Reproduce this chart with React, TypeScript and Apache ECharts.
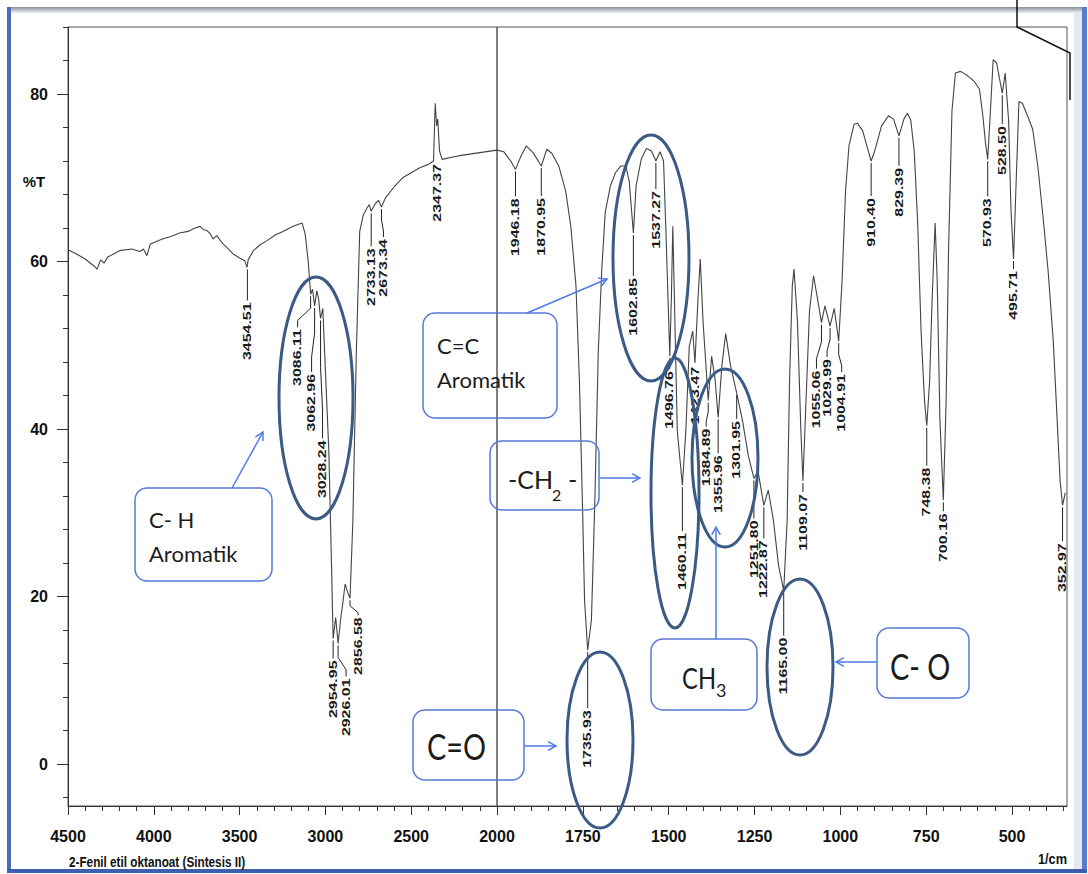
import React, { useEffect, useRef } from "react";
import * as echarts from "echarts";

// ---------- spectrum (wavenumber 1/cm, %T) ----------
const SPEC_WN = [
  4500, 4450, 4400, 4350, 4330, 4310, 4290, 4270, 4200, 4130, 4080, 4060, 4040, 4020, 3950, 3900, 3850, 3800, 3760, 3730,
  3710, 3690, 3670, 3655, 3633, 3615, 3597, 3570, 3538, 3497, 3470, 3457, 3450, 3420, 3380, 3340, 3290, 3247, 3188, 3136,
  3118, 3100, 3089, 3086.11, 3075, 3062.96, 3050, 3040, 3028.24, 3015, 3000, 2980, 2965, 2954.95, 2940, 2926.01, 2910, 2900,
  2885, 2870, 2856.58, 2840, 2820, 2800, 2780, 2760, 2745, 2733.13, 2710, 2690, 2673.34, 2650, 2600, 2550, 2500, 2450, 2400,
  2370, 2360, 2352, 2345, 2335, 2320, 2250, 2200, 2100, 2000,
  1980, 1960, 1946.18, 1930, 1915, 1895, 1870.95, 1855, 1840, 1820, 1800, 1785, 1770, 1760, 1750, 1745, 1735.93, 1725, 1715,
  1705, 1695, 1685, 1670, 1655, 1640, 1625, 1615, 1602.85, 1595, 1580, 1565, 1550, 1537.27, 1525, 1515, 1508, 1496.76, 1492,
  1488, 1483, 1475, 1460.11, 1450, 1440, 1430, 1423.47, 1415, 1408, 1400, 1384.89, 1375, 1365, 1355.96, 1345, 1334, 1320,
  1301.95, 1285, 1268, 1251.8, 1240, 1222.87, 1210, 1195, 1180, 1165, 1155, 1148, 1140, 1135, 1125, 1115, 1109.07, 1100,
  1090, 1078, 1068, 1055.06, 1045, 1029.99, 1018, 1004.91, 995, 985, 975, 960, 950, 935, 920, 910.4, 900, 880, 860, 845,
  829.39, 815, 805, 795, 785, 775, 765, 755, 748.38, 740, 733, 724, 718, 710, 700.16, 692, 685, 675, 665, 650, 630, 610, 595,
  585, 578, 570.93, 563, 555, 545, 535, 528.5, 520, 510, 503, 495.71, 488, 480, 470, 455, 440, 425, 410, 395, 380, 370, 360,
  352.97, 345,
];
const SPEC_T = [
  61.4, 60.9, 60.3, 59.5, 59.1, 60.2, 59.8, 60.5, 61.3, 61.5, 61.2, 61.5, 60.7, 62.1, 62.7, 63.0, 63.4, 63.6, 64.0, 64.2,
  63.8, 63.7, 63.3, 62.7, 63.1, 62.6, 62.1, 61.6, 60.9, 60.4, 60.1, 59.3, 60.2, 61.3, 62.0, 62.5, 63.2, 63.6, 64.2, 64.6,
  63.3, 60.0, 56.9, 56.1, 56.7, 54.7, 56.5, 55.6, 53.2, 54.4, 47.0, 37.4, 24.3, 15.0, 17.5, 14.4, 17.5, 19.0,
  21.5, 20.5, 19.8, 29.0, 49.0, 63.6, 65.5, 66.3, 66.8, 66.0, 66.9, 67.3, 66.5, 67.6, 68.9, 70.0, 70.6, 71.2, 71.6,
  72.0, 78.9, 76.2, 77.0, 73.2, 72.2, 72.5, 72.7, 73.0, 73.3,
  73.1, 72.0, 71.0, 72.6, 73.8, 73.0, 71.4, 73.4, 72.9, 71.4, 68.4, 64.2, 57.1, 45.8, 29.1, 19.5, 13.6, 17.2, 31.5,
  49.3, 58.9, 65.8, 69.0, 70.6, 71.4, 71.4, 69.6, 63.4, 69.0, 72.2, 73.5, 73.2, 72.0, 73.1, 72.0, 63.6, 48.7, 56.0,
  64.2, 55.0, 39.8, 33.3, 39.8, 49.9, 51.7, 47.9, 55.3, 60.3, 52.9, 43.4, 48.7, 46.0, 41.4, 47.6, 51.4, 47.6,
  44.3, 41.0, 36.8, 34.1, 35.0, 30.9, 32.7, 29.1, 23.7, 20.7, 29.1, 45.8, 57.1, 59.1, 52.9, 39.8, 33.8, 43.4,
  54.1, 58.3, 55.9, 52.7, 54.7, 52.3, 54.4, 50.5, 57.7, 68.4, 73.8, 76.4, 76.5, 75.6, 73.4, 72.0, 73.2, 76.2, 77.4, 77.0,
  75.0, 77.0, 77.7, 76.9, 73.2, 64.8, 51.7, 43.4, 40.4, 45.8, 55.3, 64.6, 57.7, 41.0, 31.5, 43.4, 61.3, 78.0, 82.5, 82.7, 82.2, 81.5, 80.6,
  77.4, 74.4, 72.2, 78.0, 84.1, 83.7, 81.5, 80.1, 82.5, 76.8, 66.0, 60.3, 69.6, 79.1, 78.9, 77.4, 75.8, 71.4, 65.4, 58.9, 50.5, 42.2, 33.8,
  30.9, 32.4,
];

// ---------- peak labels ----------
const PEAK_WN = [
  3454.51, 3086.11, 3062.96, 3028.24, 2954.95, 2926.01, 2856.58, 2733.13, 2673.34, 2347.37,
  1946.18, 1870.95, 1735.93, 1602.85, 1537.27, 1496.76, 1460.11, 1423.47, 1384.89, 1355.96,
  1301.95, 1251.8, 1222.87, 1165.0, 1109.07, 1055.06, 1029.99, 1004.91, 910.4, 829.39,
  748.38, 700.16, 570.93, 528.5, 495.71, 352.97,
];
const PEAK_T = [
  59.3, 56.1, 54.7, 53.2, 15.0, 14.4, 19.8, 66.0, 66.5, 72.0,
  71.0, 71.4, 13.6, 63.4, 72.0, 48.7, 33.3, 47.9, 43.4, 41.4,
  44.3, 34.1, 30.9, 20.7, 33.8, 52.7, 52.3, 50.5, 72.0, 75.0,
  40.4, 31.5, 72.2, 80.1, 60.3, 30.9,
];
// label layout: distance (px) below the point, and sideways shift of leader
const LABEL_GAP = [
  35, 35, 68, 122, 22, 35, 19, 37, 32, 3,
  29, 32, 60, 45, 30, 15, 48, 4, 28, 38,
  28, 42, 35, 47, 13, 48, 33, 33, 37, 32,
  42, 13, 39, 33, 12, 38,
];
const LABEL_DX = [
  0, -13, -3, 2, 0, 8, 8, 0, 2, 0,
  0, 0, 0, 0, 0, 0, 0, 0, -2, 0,
  0, 0, 0, 0, 0, -5, -3, 3, 0, 0,
  0, 0, 0, 0, 0, 0,
];

// ---------- axes ----------
const X_LEFT_LABELS = [4500, 4000, 3500, 3000, 2500];
const X_LEFT_MAJOR = [4500, 4000, 3500, 3000, 2500, 2000];
const X_RIGHT_LABELS = [2000, 1750, 1500, 1250, 1000, 750, 500];
const Y_LABELS = [0, 20, 40, 60, 80];

const stepList = (a: number, b: number, s: number) => {
  const out: number[] = [];
  for (let v = a; v <= b + 1e-9; v += s) out.push(v);
  return out;
};

const AX_FONT = '"Liberation Sans", Arial, Helvetica, sans-serif';
const ANN_FONT = 'Lato, "Open Sans", "Noto Sans", sans-serif';
const ELL = "#3b5b85";
const BOX = "#5878d6";
const ARR = "#4f7be8";

function arrow(x1: number, y1: number, x2: number, y2: number) {
  const ang = Math.atan2(y2 - y1, x2 - x1);
  const L = 9;
  const a1 = ang + Math.PI - 0.5;
  const a2 = ang + Math.PI + 0.5;
  return [
    { type: "line", z: 100, shape: { x1, y1, x2, y2 }, style: { stroke: ARR, lineWidth: 1.5 } },
    {
      type: "polyline",
      z: 100,
      shape: {
        points: [
          [x2 + L * Math.cos(a1), y2 + L * Math.sin(a1)],
          [x2, y2],
          [x2 + L * Math.cos(a2), y2 + L * Math.sin(a2)],
        ],
      },
      style: { stroke: ARR, lineWidth: 1.5, fill: null },
    },
  ];
}

function ellipse(cx: number, cy: number, rx: number, ry: number) {
  return { type: "ellipse", z: 100, shape: { cx, cy, rx, ry }, style: { fill: null, stroke: ELL, lineWidth: 3 } };
}
function box(x: number, y: number, width: number, height: number) {
  return { type: "rect", z: 99, shape: { x, y, width, height, r: 12 }, style: { fill: null, stroke: BOX, lineWidth: 1.5 } };
}
function txt(text: string, x: number, y: number, size: number, sx = 1, extra: any = {}) {
  return {
    type: "text",
    z: 101,
    x,
    y,
    scaleX: sx,
    style: {
      text,
      fill: "#1c1c1c",
      font: `${size}px ${ANN_FONT}`,
      textAlign: "left",
      textVerticalAlign: "middle",
      align: "left",
      verticalAlign: "middle",
      ...extra,
    },
  };
}

function makeLabelSeries(idxs: number[], xi: number, yi: number) {
  return {
    type: "custom",
    xAxisIndex: xi,
    yAxisIndex: yi,
    clip: false,
    silent: true,
    z: 5,
    data: idxs.map((i) => [PEAK_WN[i], PEAK_T[i], i]),
    renderItem: (params: any, api: any) => {
      const i = api.value(2);
      const p = api.coord([api.value(0), api.value(1)]);
      const gap = LABEL_GAP[i];
      const dx = LABEL_DX[i];
      const children: any[] = [];
      if (gap > 6) {
        const pts =
          dx === 0
            ? [
                [p[0], p[1] + 2],
                [p[0], p[1] + gap - 2],
              ]
            : [
                [p[0], p[1] + 2],
                [p[0], p[1] + gap * 0.4],
                [p[0] + dx, p[1] + gap * 0.75],
                [p[0] + dx, p[1] + gap - 2],
              ];
        children.push({ type: "polyline", shape: { points: pts }, style: { stroke: "#222", lineWidth: 1, fill: null } });
      }
      children.push({
        type: "text",
        x: p[0] + dx,
        y: p[1] + gap,
        rotation: Math.PI / 2,
        scaleX: 1.45,
        style: {
          text: PEAK_WN[i].toFixed(2),
          textAlign: "right",
          textVerticalAlign: "middle",
          align: "right",
          verticalAlign: "middle",
          font: `bold 11px ${AX_FONT}`,
          fill: "#1a1a1a",
        },
      });
      return { type: "group", children };
    },
  };
}

export default function App() {
  const ref = useRef<HTMLDivElement>(null);
  useEffect(() => {
    if (!ref.current) return;
    const chart = echarts.init(ref.current, null, { renderer: "svg" });

    const leftData: number[][] = [];
    const rightData: number[][] = [];
    SPEC_WN.forEach((w, i) => {
      if (w >= 2000) leftData.push([w, SPEC_T[i]]);
      if (w <= 2000) rightData.push([w, SPEC_T[i]]);
    });
    const leftIdx = PEAK_WN.map((w, i) => (w > 2000 ? i : -1)).filter((i) => i >= 0);
    const rightIdx = PEAK_WN.map((w, i) => (w <= 2000 ? i : -1)).filter((i) => i >= 0);

    const axLabel = {
      fontSize: 16,
      fontWeight: "bold",
      color: "#111",
      fontFamily: AX_FONT,
      formatter: (v: number) => String(v),
    };
    const line = { show: true, onZero: false, lineStyle: { color: "#333", width: 1 } };
    const noLine = { show: false, onZero: false };
    const tickStyle = { color: "#333", width: 1 };

    const graphic: any[] = [
      // window frame
      {
        type: "rect",
        shape: { x: 8, y: 7, width: 1076, height: 6 },
        style: {
          fill: new echarts.graphic.LinearGradient(0, 0, 0, 1, [
            { offset: 0, color: "#8a8f98" },
            { offset: 1, color: "#eef0f3" },
          ]),
        },
      },
      { type: "rect", shape: { x: 7, y: 7, width: 4, height: 866 }, style: { fill: "#4a6bc0" } },
      { type: "rect", shape: { x: 1074, y: 12, width: 8, height: 858 }, style: { fill: "#e3e8f1" } },
      { type: "rect", shape: { x: 1082, y: 7, width: 5, height: 866 }, style: { fill: "#5a7cc8" } },
      { type: "rect", shape: { x: 7, y: 869, width: 1080, height: 4 }, style: { fill: "#3e5fb0" } },
      {
        type: "polyline",
        shape: { points: [[1017, 0], [1017, 27], [1070, 53], [1070, 100]] },
        style: { stroke: "#111", lineWidth: 1.5, fill: null },
      },
      // axis texts
      {
        type: "text",
        x: 34,
        y: 181,
        style: { text: "%T", font: `bold 15px ${AX_FONT}`, fill: "#111", textAlign: "center", textVerticalAlign: "middle", align: "center", verticalAlign: "middle" },
      },
      {
        type: "text",
        x: 69,
        y: 862,
        scaleX: 0.84,
        style: { text: "2-Fenil etil oktanoat (Sintesis II)", font: `bold 14px ${AX_FONT}`, fill: "#111", textAlign: "left", textVerticalAlign: "middle", align: "left", verticalAlign: "middle" },
      },
      {
        type: "text",
        x: 1067,
        y: 859,
        scaleX: 0.85,
        style: { text: "1/cm", font: `bold 15px ${AX_FONT}`, fill: "#111", textAlign: "right", textVerticalAlign: "middle", align: "right", verticalAlign: "middle" },
      },
      // ellipses
      ellipse(316, 398, 37, 121),
      ellipse(651, 258, 38, 123),
      ellipse(675, 493, 24, 135),
      ellipse(725, 458, 33, 89),
      ellipse(600, 740, 33, 88),
      ellipse(800, 667, 33, 88),
      // boxes
      box(135, 488, 137, 93),
      box(423, 313, 134, 105),
      box(490, 441, 109, 69),
      box(651, 639, 106, 71),
      box(413, 710, 111, 70),
      box(877, 628, 92, 70),
      // box texts
      txt("C- H", 149, 519, 22),
      txt("Aromatik", 149, 553, 22),
      txt("C=C", 437, 345, 22),
      txt("Aromatik", 437, 379, 22),
      txt("-CH", 508, 479, 25),
      txt("2", 552, 494, 16),
      txt("-", 568, 479, 25),
      txt("CH", 682, 678, 28, 0.85),
      txt("3", 716, 690, 18),
      txt("C=O", 427, 746, 36, 0.8),
      txt("C- O", 890, 666, 36, 0.8),
      // arrows
      ...arrow(232, 488, 263, 432),
      ...arrow(527, 313, 607, 279),
      ...arrow(600, 478, 640, 478),
      ...arrow(716, 639, 716, 527),
      ...arrow(524, 746, 556, 746),
      ...arrow(877, 662, 836, 662),
    ];

    chart.setOption({
      animation: false,
      backgroundColor: "#ffffff",
      grid: [
        { left: 68, top: 27, width: 429, height: 779, show: true, borderColor: "#555", borderWidth: 1, outerBoundsMode: "none" },
        { left: 497, top: 27, width: 570, height: 779, show: true, borderColor: "#555", borderWidth: 1, outerBoundsMode: "none" },
      ],
      xAxis: [
        {
          gridIndex: 0, type: "value", min: 2000, max: 4500, inverse: true, position: "bottom",
          axisLine: line,
          axisTick: { show: true, customValues: X_LEFT_MAJOR, length: 9, lineStyle: tickStyle },
          axisLabel: { ...axLabel, customValues: X_LEFT_LABELS, margin: 22 },
          splitLine: { show: false },
        },
        {
          gridIndex: 0, type: "value", min: 2000, max: 4500, inverse: true, position: "bottom", offset: 0,
          axisLine: noLine,
          axisTick: { show: true, customValues: stepList(2000, 4500, 100), length: 5, lineStyle: tickStyle },
          axisLabel: { show: false },
          splitLine: { show: false },
        },
        {
          gridIndex: 1, type: "value", min: 340, max: 2000, inverse: true, position: "bottom",
          axisLine: line,
          axisTick: { show: true, customValues: X_RIGHT_LABELS, length: 9, lineStyle: tickStyle },
          axisLabel: { ...axLabel, customValues: X_RIGHT_LABELS, margin: 22 },
          splitLine: { show: false },
        },
        {
          gridIndex: 1, type: "value", min: 340, max: 2000, inverse: true, position: "bottom", offset: 0,
          axisLine: noLine,
          axisTick: { show: true, customValues: stepList(350, 2000, 50), length: 5, lineStyle: tickStyle },
          axisLabel: { show: false },
          splitLine: { show: false },
        },
      ],
      yAxis: [
        {
          gridIndex: 0, type: "value", min: -5, max: 88, position: "left",
          axisLine: line,
          axisTick: { show: true, customValues: Y_LABELS, length: 11, lineStyle: tickStyle },
          axisLabel: { ...axLabel, customValues: Y_LABELS, margin: 20 },
          splitLine: { show: false },
        },
        {
          gridIndex: 0, type: "value", min: -5, max: 88, position: "left", offset: 0,
          axisLine: noLine,
          axisTick: { show: true, customValues: stepList(-4, 88, 4), length: 5, lineStyle: tickStyle },
          axisLabel: { show: false },
          splitLine: { show: false },
        },
        { gridIndex: 1, type: "value", min: -5, max: 88, show: false, axisLine: noLine, splitLine: { show: false } },
      ],
      series: [
        {
          type: "line", xAxisIndex: 0, yAxisIndex: 0, data: leftData, symbol: "none", showSymbol: false,
          lineStyle: { color: "#444", width: 1.1 }, z: 3,
        },
        {
          type: "line", xAxisIndex: 2, yAxisIndex: 2, data: rightData, symbol: "none", showSymbol: false,
          lineStyle: { color: "#444", width: 1.1 }, z: 3,
        },
        makeLabelSeries(leftIdx, 0, 0),
        makeLabelSeries(rightIdx, 2, 2),
      ],
      graphic,
    });
    return () => chart.dispose();
  }, []);

  return (
    <div
      ref={ref}
      style={{ position: "fixed", left: 0, top: 0, width: 1088, height: 874, background: "#fff" }}
    />
  );
}
